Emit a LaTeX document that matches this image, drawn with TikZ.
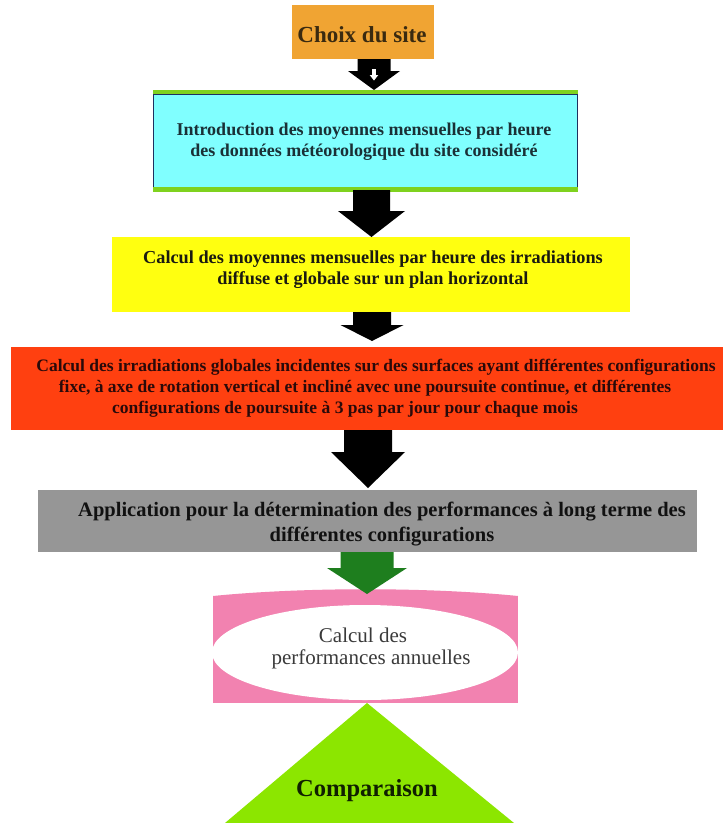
\documentclass[tikz,border=0pt]{standalone}
\usepackage{fontspec}
\setmainfont{Liberation Serif}
\usetikzlibrary{calc,shapes.geometric}
\definecolor{orangebox}{HTML}{F0A433}
\definecolor{cyanbox}{HTML}{80FFFF}
\definecolor{greenband}{HTML}{7FD21E}
\definecolor{navyline}{HTML}{1F3060}
\definecolor{yellowbox}{HTML}{FFFF10}
\definecolor{redbox}{HTML}{FF4010}
\definecolor{graybox}{HTML}{969696}
\definecolor{greenarrow}{HTML}{1E7E1E}
\definecolor{pinkbox}{HTML}{F282B0}
\definecolor{limetri}{HTML}{8CE600}
\definecolor{choixtxt}{HTML}{3A2A10}
\definecolor{cyantxt}{HTML}{1A3036}
\definecolor{yellowtxt}{HTML}{1A1A10}
\definecolor{redtxt}{HTML}{2A0A0A}
\definecolor{graytxt}{HTML}{111111}
\definecolor{elltxt}{HTML}{3A3A3A}
\definecolor{comptxt}{HTML}{102000}
% #1 from point, #2 to point, #3 centre x, #4 shaft half width, #5 head half width, #6 head length, #7 colour
\newcommand\flowarrow[7]{%
  \fill[#7] let \p1=#1, \p2=#2 in
    (#3pt-#4pt,\y1) -- (#3pt+#4pt,\y1) -- (#3pt+#4pt,\y2+#6pt) -- (#3pt+#5pt,\y2+#6pt)
    -- (#3pt,\y2) -- (#3pt-#5pt,\y2+#6pt) -- (#3pt-#4pt,\y2+#6pt) -- cycle;}
\begin{document}
\begin{tikzpicture}[x=1pt,y=-1pt,
  box/.style={rectangle,inner sep=0pt,outer sep=0pt},
  txt/.style={align=center,inner sep=0pt,outer sep=0pt}]
\useasboundingbox[fill=white] (0,0) rectangle (723,823);
% boxes
\node[box,fill=orangebox,minimum width=142pt,minimum height=54pt] (choix) at (363,32) {};
\node[box,fill=cyanbox,minimum width=425pt,minimum height=100pt] (cyanb) at (365.5,140) {};
\node[box,fill=yellowbox,minimum width=518pt,minimum height=75pt] (yel) at (371,274.5) {};
\node[box,fill=redbox,minimum width=712pt,minimum height=83pt] (red) at (367,388.5) {};
\node[box,fill=graybox,minimum width=659pt,minimum height=62pt] (gray) at (367.5,521) {};
\node[box,fill=pinkbox,minimum width=305pt,minimum height=107pt] (pink) at (365.5,649.5) {};
\fill[pinkbox] (pink.north west) .. controls +(90,-9) and +(-90,-9) .. (pink.north east) -- cycle;
\node[ellipse,fill=white,inner sep=0pt,minimum width=306pt,minimum height=95pt] (ell) at (365,652.5) {};
% cyan box borders
\draw[navyline,line width=1pt] ([xshift=0.5pt]cyanb.north west) -- ([xshift=0.5pt]cyanb.south west);
\draw[navyline,line width=0.8pt] ([xshift=-0.4pt]cyanb.north east) -- ([xshift=-0.4pt]cyanb.south east);
\draw[navyline,line width=1pt] ([yshift=-4.5pt]cyanb.north west) -- ([yshift=-4.5pt]cyanb.north east);
\fill[greenband] (cyanb.north west) rectangle ([yshift=-4pt]cyanb.north east);
\fill[greenband] ([yshift=3pt]cyanb.south west) rectangle ([yshift=-1.5pt]cyanb.south east);
% triangle
\coordinate (triL) at (225,823);
\coordinate (triR) at (514,823);
\fill[limetri] ([xshift=1.5pt]pink.south) -- (triR) -- (triL) -- cycle;
% arrows
\flowarrow{(choix.south)}{(cyanb.north)}{374}{16.5}{26}{19}{black}
\fill[white] (372.2,69) -- (375.8,69) -- (375.8,75) -- (378.3,75) -- (374,80.5) -- (369.7,75) -- (372.2,75) -- cycle;
\flowarrow{(cyanb.south)}{(yel.north)}{371.5}{18.5}{33.5}{26}{black}
\flowarrow{(yel.south)}{([yshift=6pt]red.north)}{372}{19}{31.5}{16}{black}
\flowarrow{(red.south)}{([yshift=2pt]gray.north)}{368}{24}{37}{36}{black}
\flowarrow{(gray.south)}{([yshift=2pt]pink.north)}{367}{26.5}{40}{26}{greenarrow}
% texts
\node[txt,text=choixtxt,font=\fontsize{23}{27}\selectfont\bfseries] (t1) at (362,35) {Choix du site};
\node[txt,text=cyantxt,font=\fontsize{18}{20.5}\selectfont\bfseries] (t2) at (364,141.5)
  {Introduction des moyennes mensuelles par heure\\des données météorologique du site considéré};
\node[txt,text=yellowtxt,font=\fontsize{18.3}{21.5}\selectfont\bfseries] (t3) at (373,269.5)
  {Calcul des moyennes mensuelles par heure des irradiations\\diffuse et globale sur un plan horizontal};
\node[txt,text=redtxt,font=\fontsize{17.5}{21}\selectfont\bfseries] (t4) at (365,388.5)
  {\hspace*{22pt}Calcul des irradiations globales incidentes sur des surfaces ayant différentes configurations\\
   fixe, à axe de rotation vertical et incliné avec une poursuite continue, et différentes\\
   configurations de poursuite à 3 pas par jour pour chaque mois\hspace*{40pt}};
\node[txt,text=graytxt,font=\fontsize{20.5}{24.5}\selectfont\bfseries] (t5) at (382,524)
  {Application pour la détermination des performances à long terme des\\différentes configurations};
\node[txt,text=elltxt,font=\fontsize{21}{22}\selectfont] (t6) at (371,648)
  {Calcul des\hspace*{16pt}\\performances annuelles};
\node[txt,text=comptxt,font=\fontsize{24.5}{28}\selectfont\bfseries] (t7) at (367,791) {Comparaison};
\end{tikzpicture}
\end{document}
